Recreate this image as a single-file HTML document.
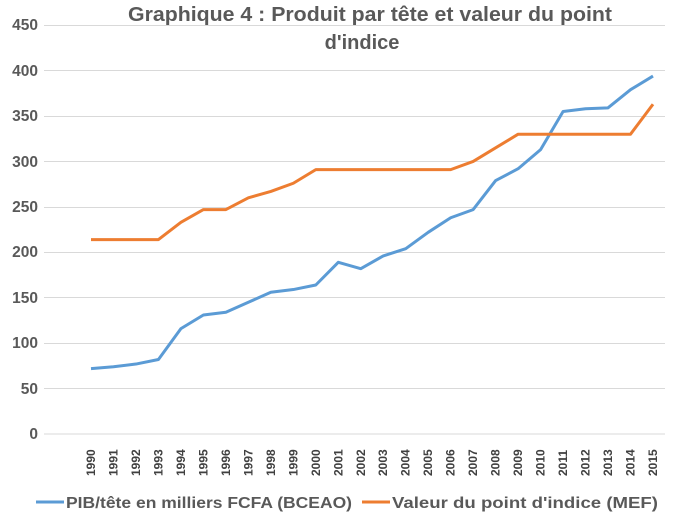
<!DOCTYPE html>
<html><head><meta charset="utf-8"><style>body{margin:0;background:#fff}svg{display:block}</style></head><body>
<svg width="684" height="513" xmlns="http://www.w3.org/2000/svg" font-family="Liberation Sans, sans-serif">
<rect width="684" height="513" fill="#fff"/>
<g stroke="#d9d9d9" stroke-width="1">
<line x1="44" x2="665" y1="25.5" y2="25.5"/><line x1="44" x2="665" y1="70.5" y2="70.5"/><line x1="44" x2="665" y1="116.5" y2="116.5"/><line x1="44" x2="665" y1="161.5" y2="161.5"/><line x1="44" x2="665" y1="207.5" y2="207.5"/><line x1="44" x2="665" y1="252.5" y2="252.5"/><line x1="44" x2="665" y1="297.5" y2="297.5"/><line x1="44" x2="665" y1="343.5" y2="343.5"/><line x1="44" x2="665" y1="388.5" y2="388.5"/><line x1="44" x2="665" y1="434" y2="434"/>
</g>
<g fill="#595959" font-size="15.5" font-weight="bold" text-anchor="end">
<text x="38" y="30">450</text><text x="38" y="76">400</text><text x="38" y="121">350</text><text x="38" y="167">300</text><text x="38" y="212">250</text><text x="38" y="257">200</text><text x="38" y="303">150</text><text x="38" y="348">100</text><text x="38" y="394">50</text><text x="38" y="439">0</text>
</g>
<text x="128" y="21" fill="#595959" font-size="20" font-weight="bold" textLength="484" lengthAdjust="spacingAndGlyphs">Graphique 4 : Produit par tête et valeur du point</text>
<text x="362" y="49" fill="#595959" font-size="20" font-weight="bold" text-anchor="middle">d'indice</text>
<g id="xl" fill="#404040" font-size="12" font-weight="bold"></g>
<polyline id="p1" fill="none" stroke="#5b9bd5" stroke-width="3" stroke-linejoin="round"/>
<polyline id="p2" fill="none" stroke="#ed7d31" stroke-width="3" stroke-linejoin="round"/>
<line x1="36" x2="64" y1="502" y2="502" stroke="#5b9bd5" stroke-width="3"/>
<text x="66" y="508" fill="#595959" font-size="16" font-weight="bold" textLength="286" lengthAdjust="spacingAndGlyphs">PIB/tête en milliers FCFA (BCEAO)</text>
<line x1="362" x2="390" y1="502" y2="502" stroke="#ed7d31" stroke-width="3"/>
<text x="392" y="508" fill="#595959" font-size="16" font-weight="bold" textLength="266" lengthAdjust="spacingAndGlyphs">Valeur du point d'indice (MEF)</text>
</svg>
<script>
var a=[72,74,77,82,116,131,134,145,156,159,164,189,182,196,204,222,238,247,279,292,313,355,358,359,379,394];
var b=[214,214,214,214,233,247,247,260,267,276,291,291,291,291,291,291,291,300,315,330,330,330,330,330,330,363];
function X(i){return 91+i*22.48}function Y(v){return 434-v*0.9085}
document.getElementById('p1').setAttribute('points',a.map((v,i)=>X(i)+','+Y(v)).join(' '));
document.getElementById('p2').setAttribute('points',b.map((v,i)=>X(i)+','+Y(v)).join(' '));
var g=document.getElementById('xl'),s='';
for(var i=0;i<26;i++){var x=X(i)+4;s+='<text transform="translate('+x+',476) rotate(-90)">'+(1990+i)+'</text>';}
g.innerHTML=s;
</script>
</body></html>
